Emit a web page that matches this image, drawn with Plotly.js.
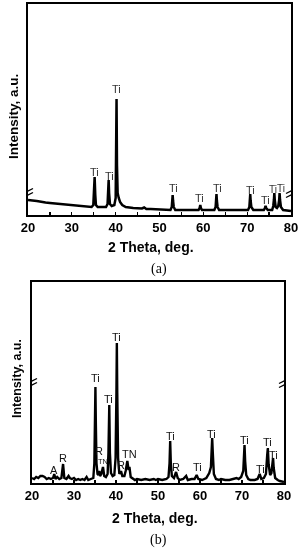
<!DOCTYPE html>
<html>
<head>
<meta charset="utf-8">
<script src="https://cdn.plot.ly/plotly-3.0.1.min.js"></script>
<style>
html,body{margin:0;padding:0;background:#fff;}
#chart{width:303px;height:550px;}
#chart .main-svg{will-change:transform;}
#chart .annotation-text{opacity:0.99;}
</style>
</head>
<body>
<div id="chart"></div>
<script>
// ---------- Data: panel (a) ----------
const twoThetaA = [20,20.5,21,22,23,24,25,26,27,28,29,30,31,32,33,34,34.5,34.9,35.05,35.2,35.35,35.5,35.9,37,37.8,38.15,38.3,38.4,38.5,38.7,39.1,39.7,40.0,40.12,40.2,40.3,40.45,40.7,41.0,41.5,42.3,44,46,46.5,47,48,50,52.5,52.8,52.92,53.0,53.1,53.25,53.6,56,58.9,59.15,59.3,59.45,59.7,61,62.5,62.8,62.92,63.0,63.1,63.25,63.6,66,68,70.2,70.5,70.62,70.7,70.8,70.95,71.4,73,73.8,74.05,74.2,74.35,74.7,75.7,75.95,76.1,76.2,76.3,76.5,76.8,77.1,77.3,77.4,77.5,77.7,78.2,79,80];
const intensityA = [15,15,14.5,14,13,12.5,12,11.5,11,10.5,10,9.5,9,8.5,8,8,8,10,20,38,20,10,8,8,8,11,22,35,22,11,9,10,17,50,116,50,22,17,13,10,8,7,6.5,7.5,6,6,5.5,5,8,14,20,14,8,5,5,5,7,10,7,5,5,5,8,14,21,14,8,5,5,5,5,8,14,21,14,8,5,5,5,7,9,7,5,5,9,15,22,15,8,7,9,15,22,15,8,5,4.5,4];
const peakLabelA = ["Ti","Ti","Ti","Ti","Ti","Ti","Ti","Ti","Ti","Ti"];
const peakLabelXA = [35.1,38.7,40.1,53.2,59.1,63.3,70.8,74.1,75.8,77.7];
const peakLabelYA = [43,39,126,27,17,27,25,15,26,27];

// ---------- Data: panel (b) ----------
const twoThetaB = [20,20.5,21,21.5,22,22.5,23,23.5,24,24.5,25,25.3,25.6,26,26.5,27,27.4,27.7,28.2,28.7,29,29.5,30,30.5,31,31.5,32,32.5,33,33.4,34,34.6,34.85,35.0,35.1,35.2,35.35,35.6,35.8,36.0,36.2,36.5,36.9,37.2,37.6,38.0,38.2,38.4,38.55,38.8,39.2,39.6,39.9,40.1,40.2,40.3,40.5,40.8,41.2,41.5,42.0,42.3,42.7,43.0,43.2,43.5,44,44.5,45,46,47,48,49,49.5,50,51,52,52.5,52.75,52.9,53.05,53.3,53.8,54.3,54.7,55.2,56,56.7,57.1,58,58.7,59.2,59.6,60.5,61.5,62.2,62.6,62.8,62.9,63.05,63.3,63.8,64.5,65,66,67,68,68.7,69.2,69.8,70.3,70.5,70.6,70.75,71.0,71.5,72,73,73.7,74.2,74.6,75.2,75.7,76.0,76.15,76.35,76.7,77.0,77.25,77.4,77.55,77.9,78.5,79,80];
const intensityB = [5,4,6,5,7,7,6,4,5,4,5,9,4,6,4,5,19,5,4,7,5,4,5,3,4,3,4,3,6,3,4,5,20,60,96,60,20,9,8,12,7,9,16,7,6,9,30,78,30,10,7,8,25,90,140,90,25,9,12,7,7,12,22,13,16,6,4,3,4,3,4,3,4,3,4,3,4,6,20,42,20,7,5,11,5,3,4,7,3,4,4,8,4,3,5,10,16,30,45,30,9,4,3,4,3,3,4,5,4,6,12,30,38,22,8,4,3,3,4,9,4,5,9,28,35,18,8,10,20,25,15,5,3,2,1];
const peakLabelB = ["A","R","Ti","R","TN","Ti","Ti","R","TN","Ti","R","Ti","Ti","Ti","Ti","Ti","Ti"];
const peakLabelXB = [25.2,27.4,35.1,36.0,36.9,38.3,40.1,41.2,43.2,52.9,54.3,59.4,62.8,70.6,74.4,76.0,77.6];
const peakLabelYB = [13,25,105,32,22,84,146,18,29,47,16,16,49,43,14,41,28];

// ---------- Axis ticks ----------
const xTickVals = [20,30,40,50,60,70,80];
const xTickText = ["20","30","40","50","60","70","80"];

// ---------- Layout helpers (pixel -> paper) ----------
const W = 303, H = 550;
const px = v => v / W;
const py = v => 1 - v / H;

const tickFont = {family: "Liberation Sans, Arial, sans-serif", size: 13, color: "#000", weight: "bold"};
const titleFont = {family: "Liberation Sans, Arial, sans-serif", size: 14, color: "#000", weight: "bold"};

function xAxis(domain, anchor) {
  return {
    domain: domain, anchor: anchor, range: [20, 80],
    tickmode: "array", tickvals: xTickVals, ticktext: xTickText,
    ticks: "inside", ticklen: 3, tickwidth: 1.3, tickcolor: "#000",
    minor: {tickmode: "array", tickvals: [25,35,45,55,65,75], ticks: "inside", ticklen: 3, tickwidth: 1.3, tickcolor: "#000"},
    showline: true, mirror: true, linecolor: "#000", linewidth: 1.6,
    showgrid: false, zeroline: false, tickfont: tickFont, fixedrange: true
  };
}
function yAxis(domain, anchor, top) {
  return {
    domain: domain, anchor: anchor, range: [0, top],
    showticklabels: false, ticks: "",
    showline: true, mirror: true, linecolor: "#000", linewidth: 1.6,
    showgrid: false, zeroline: false, fixedrange: true
  };
}

const traces = [
  {x: twoThetaA, y: intensityA, xaxis: "x", yaxis: "y", mode: "lines",
   line: {color: "#000", width: 2.5}, hoverinfo: "skip"},
  {x: twoThetaB, y: intensityB, xaxis: "x2", yaxis: "y2", mode: "lines",
   line: {color: "#000", width: 2.4}, hoverinfo: "skip"}
];

const annotations = [];
peakLabelA.forEach((t, i) => annotations.push({
  xref: "x", yref: "y", x: peakLabelXA[i], y: peakLabelYA[i], text: t, showarrow: false,
  font: {family: "Liberation Sans, Arial, sans-serif", size: i >= 8 ? 10 : 11, color: "#333"}
}));
peakLabelB.forEach((t, i) => annotations.push({
  xref: "x2", yref: "y2", x: peakLabelXB[i], y: peakLabelYB[i], text: t, showarrow: false,
  font: {family: "Liberation Sans, Arial, sans-serif", size: (t === "TN" && i === 4) ? 7.5 : 11, color: "#111"}
}));
// axis titles and panel labels
const titleSpecs = [
  {text: "2 Theta, deg.", x: 151, y: 247, angle: 0, font: titleFont},
  {text: "Intensity, a.u.", x: 13, y: 117, angle: -90, font: Object.assign({}, titleFont, {size: 13.5})},
  {text: "(a)", x: 159, y: 269, angle: 0, font: {family: "Liberation Serif, Times New Roman, serif", size: 14, color: "#000"}},
  {text: "2 Theta, deg.", x: 155, y: 518, angle: 0, font: titleFont},
  {text: "Intensity, a.u.", x: 17, y: 379, angle: -90, font: Object.assign({}, titleFont, {size: 12.5})},
  {text: "(b)", x: 158, y: 540, angle: 0, font: {family: "Liberation Serif, Times New Roman, serif", size: 14, color: "#000"}}
];
titleSpecs.forEach(s => annotations.push({
  xref: "paper", yref: "paper", x: px(s.x), y: py(s.y), xanchor: "center", yanchor: "middle",
  text: s.text, textangle: s.angle, showarrow: false, font: s.font
}));

// axis break marks
function breakMarks(xr, yr, xVal, yVal) {
  return [
    {type: "rect", xref: xr, yref: yr, xanchor: xVal, yanchor: yVal, xsizemode: "pixel", ysizemode: "pixel",
     x0: -2.5, x1: 2.5, y0: -2, y1: 2, fillcolor: "#fff", line: {width: 0}, layer: "above"},
    {type: "line", xref: xr, yref: yr, xanchor: xVal, yanchor: yVal, xsizemode: "pixel", ysizemode: "pixel",
     x0: -5, x1: 5, y0: -4.5, y1: 0.5, line: {color: "#000", width: 1.3}, layer: "above"},
    {type: "line", xref: xr, yref: yr, xanchor: xVal, yanchor: yVal, xsizemode: "pixel", ysizemode: "pixel",
     x0: -5, x1: 5, y0: -0.5, y1: 4.5, line: {color: "#000", width: 1.3}, layer: "above"}
  ];
}
const shapes = [].concat(
  breakMarks("x", "y", 20, 22), breakMarks("x", "y", 80, 22),
  breakMarks("x2", "y2", 20, 100), breakMarks("x2", "y2", 80, 100)
);

const layout = {
  width: W, height: H,
  margin: {l: 0, r: 0, t: 0, b: 0},
  paper_bgcolor: "#fff", plot_bgcolor: "#fff",
  showlegend: false,
  xaxis: xAxis([px(28), px(291)], "y"),
  yaxis: yAxis([py(215), py(4)], "x", 211),
  xaxis2: xAxis([px(32), px(284)], "y2"),
  yaxis2: yAxis([py(483), py(282)], "x2", 201),
  annotations: annotations,
  shapes: shapes
};

Plotly.newPlot("chart", traces, layout, {displayModeBar: false, staticPlot: true});
</script>
</body>
</html>
